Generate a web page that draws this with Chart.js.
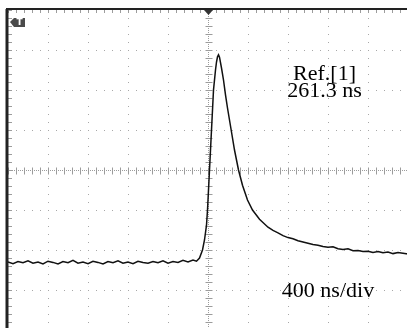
<!DOCTYPE html>
<html>
<head>
<meta charset="utf-8">
<script src="https://cdn.jsdelivr.net/npm/chart.js@4"></script>
<style>
  html, body { margin: 0; padding: 0; background: #fff; overflow: hidden; width: 407px; height: 328px; }
  #wrap { position: absolute; left: 0; top: 0; width: 420px; height: 340px; }
</style>
</head>
<body>
<div id="wrap"><canvas id="scopeChart"></canvas></div>
<script>
// time in ns (400 ns/div), level in screen divisions
const times = [
  -2000, -1950, -1900, -1850, -1800, -1750, -1700, -1650, -1600, -1550,
  -1500, -1450, -1400, -1350, -1300, -1250, -1200, -1150, -1100, -1050,
  -1000, -950, -900, -850, -800, -750, -700, -650, -600, -550,
  -500, -450, -400, -350, -300, -250, -200, -150, -115,
  -85, -55, -35, -15, -5, 5, 15, 30, 45, 55, 75, 85, 95, 105, 115,
  135, 155, 175, 195, 215, 235, 265, 305, 345, 395, 445, 515,
  600, 650, 700, 750, 800, 850, 900, 950, 1000, 1050,
  1100, 1150, 1200, 1250, 1300, 1350, 1400, 1450, 1500, 1550,
  1600, 1650, 1700, 1750, 1800, 1850, 1900, 1950, 2000
];
const levels = [
  -2.30, -2.34, -2.29, -2.32, -2.27, -2.33, -2.30, -2.35, -2.28, -2.31,
  -2.35, -2.29, -2.32, -2.26, -2.33, -2.30, -2.34, -2.28, -2.31, -2.35,
  -2.29, -2.32, -2.27, -2.33, -2.30, -2.34, -2.28, -2.31, -2.33, -2.29,
  -2.32, -2.27, -2.33, -2.29, -2.31, -2.26, -2.30, -2.25, -2.28,
  -2.20, -2.00, -1.75, -1.38, -1.00, -0.50, 0.00, 0.75, 1.50, 2.00, 2.50, 2.70, 2.83, 2.88, 2.82,
  2.55, 2.25, 1.88, 1.55, 1.25, 0.95, 0.50, 0.00, -0.38, -0.75, -1.00, -1.23,
  -1.43, -1.51, -1.57, -1.64, -1.69, -1.72, -1.77, -1.80, -1.83, -1.86,
  -1.88, -1.91, -1.93, -1.92, -1.97, -1.99, -1.97, -2.02, -2.01, -2.04,
  -2.03, -2.06, -2.04, -2.07, -2.05, -2.09, -2.06, -2.08, -2.10
];
const notes = [
  { text: "Ref.[1]", t: 1165, v: 2.25 },
  { text: "261.3 ns", t: 1165, v: 1.825 },
  { text: "400 ns/div", t: 1200, v: -3.175 }
];

const scopeDecor = {
  id: "scopeDecor",
  beforeDatasetsDraw(chart) {
    const { ctx, chartArea: a, scales: { x, y } } = chart;
    const cx = Math.round(x.getPixelForValue(0)) + 0.5;
    const cy = Math.round(y.getPixelForValue(0)) + 0.5;
    const seg = (x1, y1, x2, y2) => { ctx.beginPath(); ctx.moveTo(x1, y1); ctx.lineTo(x2, y2); ctx.stroke(); };
    ctx.save();
    ctx.strokeStyle = "#9c9c9c";
    ctx.lineWidth = 1;
    // dense centre axes
    ctx.setLineDash([1, 1]);
    seg(a.left, cy, a.right, cy);
    seg(cx, a.top, cx, a.bottom);
    ctx.setLineDash([]);
    // minor ticks, 5 per division
    for (let t = x.min; t <= x.max; t += 80) {
      const px = Math.round(x.getPixelForValue(t)) + 0.5;
      seg(px, cy - 3, px, cy + 4);
      seg(px, a.top, px, a.top + 3);
    }
    for (let v = y.min; v <= y.max + 0.01; v += 0.2) {
      const py = Math.round(y.getPixelForValue(v)) + 0.5;
      seg(cx - 3, py, cx + 4, py);
      seg(a.left, py, a.left + 4, py);
    }
    // frame
    ctx.strokeStyle = "#222";
    ctx.lineWidth = 3;
    seg(a.left - 1, a.top - 1, a.left - 1, a.bottom);
    ctx.lineWidth = 2;
    seg(a.left - 2, a.top - 1, a.right, a.top - 1);
    // trigger position marker
    ctx.fillStyle = "#333";
    ctx.beginPath();
    ctx.moveTo(cx - 4.5, a.top);
    ctx.lineTo(cx + 4.5, a.top);
    ctx.lineTo(cx, a.top + 5);
    ctx.closePath();
    ctx.fill();
    // trigger level marker "T"
    const tx = a.left + 4, ty = a.top + 7;
    ctx.fillStyle = "#4a4a4a";
    ctx.beginPath();
    ctx.moveTo(tx - 2, ty + 5);
    ctx.lineTo(tx + 2, ty + 1);
    ctx.lineTo(tx + 13, ty + 1);
    ctx.lineTo(tx + 13, ty + 10);
    ctx.lineTo(tx + 2, ty + 10);
    ctx.closePath();
    ctx.fill();
    ctx.fillStyle = "#fff";
    ctx.font = "bold 9px 'DejaVu Sans'";
    ctx.textAlign = "center";
    ctx.textBaseline = "middle";
    ctx.fillText("T", tx + 7.5, ty + 6);
    ctx.restore();
  },
  afterDatasetsDraw(chart) {
    const { ctx, scales: { x, y } } = chart;
    ctx.save();
    ctx.fillStyle = "#000";
    ctx.font = "22px 'Liberation Serif'";
    ctx.textAlign = "center";
    ctx.textBaseline = "alphabetic";
    notes.forEach(n => ctx.fillText(n.text, x.getPixelForValue(n.t), y.getPixelForValue(n.v)));
    ctx.restore();
  }
};

new Chart(document.getElementById("scopeChart"), {
  type: "line",
  data: {
    datasets: [{
      data: times.map((t, i) => ({ x: t, y: levels[i] })),
      borderColor: "#111",
      borderWidth: 1.5,
      pointRadius: 0,
      tension: 0,
      fill: false
    }]
  },
  options: {
    responsive: true,
    maintainAspectRatio: false,
    animation: false,
    layout: { padding: { left: 8, top: 10, right: 12, bottom: 10 } },
    scales: {
      x: {
        type: "linear", position: "top", min: -2000, max: 2000,
        ticks: { display: false, stepSize: 400 },
        grid: { color: "#a8a8a8", lineWidth: 1, drawTicks: false },
        border: { display: false, dash: [1, 7] }
      },
      y: {
        min: -4, max: 4,
        ticks: { display: false, stepSize: 1 },
        grid: { color: "#a8a8a8", lineWidth: 1, drawTicks: false },
        border: { display: false, dash: [1, 7] }
      }
    },
    plugins: { legend: { display: false }, tooltip: { enabled: false } }
  },
  plugins: [scopeDecor]
});
</script>
</body>
</html>
